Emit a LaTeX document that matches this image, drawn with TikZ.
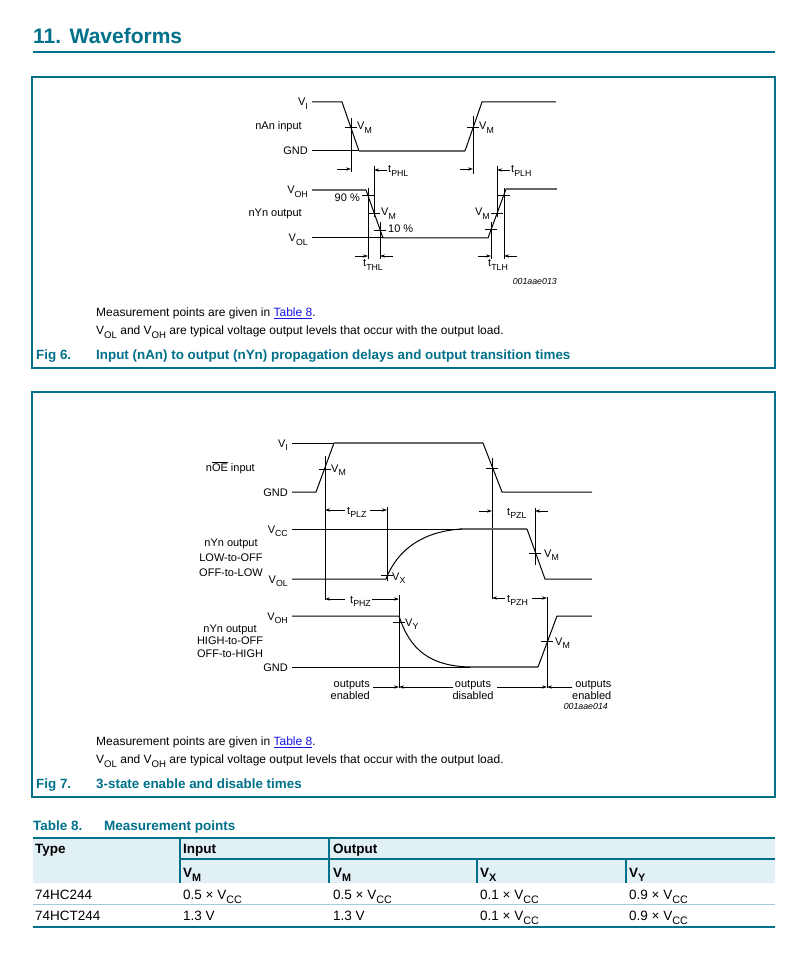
\documentclass[tikz,border=0pt]{standalone}
\usepackage{fontspec}
\setmainfont{Liberation Sans}
\usetikzlibrary{arrows.meta}
\definecolor{teal1}{RGB}{0,113,139}
\definecolor{lnk}{RGB}{20,20,230}
\definecolor{hdr}{RGB}{224,240,245}
\definecolor{rowln}{RGB}{160,205,215}
\newcommand\sbs[1]{\raisebox{-0.3em}{\scalebox{0.8}{#1}}}
\newcommand\fdg{\fontsize{11}{12}\selectfont}
\newcommand\fbd{\fontsize{12}{14}\selectfont}
\newcommand\fcp{\fontsize{13.4}{15}\selectfont\bfseries}
\newcommand\ftb{\fontsize{13.5}{15}\selectfont}
\begin{document}
\begin{tikzpicture}[x=1pt,y=-1pt,
  wv/.style={line width=1pt,black},
  wg/.style={line width=1.5pt,black!60},
  refl/.style={line width=0.8pt,black},
  arr/.style={-{Stealth[length=5pt,width=3.2pt]},line width=0.7pt},
  lab/.style={inner sep=0pt,font=\fdg},
  bodyt/.style={inner sep=0pt,anchor=base west,font=\fbd},
  capt/.style={inner sep=0pt,anchor=base west,font=\fcp,text=teal1},
  tabt/.style={inner sep=0pt,anchor=base west,font=\ftb},
  tabh/.style={inner sep=0pt,anchor=base west,font=\ftb\bfseries},
  code/.style={inner sep=0pt,anchor=base east,font=\fontsize{8.8}{10}\selectfont\itshape}]
\useasboundingbox (0,0) rectangle (795,957);
\fill[white] (0,0) rectangle (795,957);

% ---------- title ----------
\node[inner sep=0pt,anchor=base west,font=\fontsize{21}{24}\selectfont\bfseries,text=teal1] (ttl) at (33,44) {11.\hspace{8.5pt}Waveforms};
\draw[teal1,line width=2pt] (33,52.5) -- (775,52.5);

% ---------- frames ----------
\draw[teal1,line width=1.4pt] (32,77) rectangle (775,368);
\draw[teal1,line width=1.4pt] (32,392) rectangle (775,797);

% ================= Fig 6 =================
\node[lab,anchor=base east] (a1) at (308,106) {V\sbs{I}};
\node[lab,anchor=base east] (a2) at (302,130) {nAn input};
\node[lab,anchor=base east] (a3) at (308,155) {GND};
\node[lab,anchor=base east] (a4) at (308,194) {V\sbs{OH}};
\node[lab,anchor=base east] (a5) at (302,217) {nYn output};
\node[lab,anchor=base east] (a6) at (308,242) {V\sbs{OL}};
\node[lab,anchor=base west] (a7) at (357,130) {V\sbs{M}};
\node[lab,anchor=base west] (a8) at (479,130) {V\sbs{M}};
\node[lab,anchor=base west] (a9) at (388,173) {t\sbs{PHL}};
\node[lab,anchor=base west] (a10) at (511,173) {t\sbs{PLH}};
\node[lab,anchor=base east] (a11) at (360,202) {90 \%};
\node[lab,anchor=base west] (a12) at (381,216) {V\sbs{M}};
\node[lab,anchor=base west] (a13) at (388,233) {10 \%};
\node[lab,anchor=base east] (a14) at (490,216) {V\sbs{M}};
\node[lab,anchor=base west] (a15) at (363,267) {t\sbs{THL}};
\node[lab,anchor=base west] (a16) at (488,267) {t\sbs{TLH}};
\node[code] (a17) at (557,284) {001aae013};

% input waveform
\draw[wv] (312,102) -- (342,102) -- (359,151);
\draw[wv] (312,151) -- (359,151);
\draw[wg] (359,151) -- (465,151);
\draw[wv] (465,151) -- (482,102) -- (556,102);
\draw[refl] (351,118) -- (351,172);
\draw[refl] (345,127) -- (357,127);
\draw[refl] (473,116) -- (473,174);
\draw[refl] (467,127) -- (479,127);
\draw[arr] (337,169) -- (351,169);
\draw[arr] (460,169) -- (473,169);
\draw[refl] (374,166) -- (374,217);
\draw[arr] (387,170) -- (374,170);
\draw[refl] (497,166) -- (497,217);
\draw[arr] (510,170) -- (497,170);
% output waveform
\draw[wg] (312,190) -- (366,190);
\draw[wv] (312,238) -- (383,238);
\draw[wv] (366,190) -- (383,238) -- (488,238) -- (506,189);
\draw[wg] (506,189) -- (557,189);
\draw[refl] (368,188) -- (368,259);
\draw[refl] (362,195) -- (374,195);
\draw[refl] (368,213) -- (380,213);
\draw[refl] (380,222) -- (380,259);
\draw[refl] (374,230) -- (386,230);
\draw[arr] (355,256) -- (368,256);
\draw[arr] (393,256) -- (380,256);
\draw[refl] (491,222) -- (491,259);
\draw[refl] (485,229) -- (497,229);
\draw[refl] (491,213) -- (503,213);
\draw[refl] (504,188) -- (504,259);
\draw[refl] (498,195) -- (510,195);
\draw[arr] (478,256) -- (491,256);
\draw[arr] (517,256) -- (504,256);

\node[bodyt] (m1) at (96,316.5) {Measurement points are given in \textcolor{lnk}{\underline{Table 8}}.};
\node[bodyt] (m2) at (96,334.5) {V\sbs{OL} and V\sbs{OH} are typical voltage output levels that occur with the output load.};
\node[capt] (c1) at (36,359) {Fig 6.};
\node[capt] (c2) at (96,359) {Input (nAn) to output (nYn) propagation delays and output transition times};

% ================= Fig 7 =================
\node[lab,anchor=base east] (b1) at (288,447) {V\sbs{I}};
\node[lab,anchor=base east] (b2) at (255,471) {n$\overline{\mbox{OE}}$ input};
\node[lab,anchor=base east] (b3) at (288,496) {GND};
\node[lab,anchor=base west] (b4) at (331,472) {V\sbs{M}};
\node[lab,anchor=base west] (b5) at (347,514) {t\sbs{PLZ}};
\node[lab,anchor=base east] (b6) at (288,533) {V\sbs{CC}};
\node[lab,align=center,font=\fontsize{11}{15}\selectfont] (b7) at (231,558) {nYn output\\LOW-to-OFF\\OFF-to-LOW};
\node[lab,anchor=base east] (b8) at (288,583) {V\sbs{OL}};
\node[lab,anchor=base west] (b9) at (392,580) {V\sbs{X}};
\node[lab,anchor=base west] (b10) at (507,515) {t\sbs{PZL}};
\node[lab,anchor=base west] (b11) at (544,557) {V\sbs{M}};
\node[lab,anchor=base west] (b12) at (350,603) {t\sbs{PHZ}};
\node[lab,anchor=base east] (b13) at (288,620) {V\sbs{OH}};
\node[lab,align=center,font=\fontsize{11}{12.5}\selectfont] (b14) at (230,641) {nYn output\\HIGH-to-OFF\\OFF-to-HIGH};
\node[lab,anchor=base east] (b15) at (288,671) {GND};
\node[lab,anchor=base west] (b16) at (405,626) {V\sbs{Y}};
\node[lab,anchor=base west] (b17) at (555,645) {V\sbs{M}};
\node[lab,anchor=base west] (b18) at (507,602) {t\sbs{PZH}};
\node[lab,align=right,anchor=east] (b19) at (370,690) {outputs\\enabled};
\node[lab,align=center] (b20) at (473,690) {outputs\\disabled};
\node[lab,align=right,anchor=west] (b21) at (572,690) {outputs\\enabled};
\node[code] (b22) at (608,709) {001aae014};

% nOE input
\draw[wv] (292,443) -- (334,443);
\draw[wv] (292,492) -- (316,492) -- (334,443);
\draw[wg] (334,443) -- (483,443);
\draw[wv] (483,443) -- (502,492) -- (592,492);
\draw[refl] (325,456) -- (325,600);
\draw[refl] (319,469) -- (331,469);
\draw[refl] (492,458) -- (492,599);
\draw[refl] (486,468) -- (498,468);
% tPLZ
\draw[arr] (345,510) -- (325,510);
\draw[arr] (370,510) -- (387,510);
\draw[refl] (387,507) -- (387,581);
% LOW-to-OFF
\draw[wv] (292,529) -- (460,529);
\draw[wg] (460,529) -- (527,529);
\draw[wv] (527,529) -- (545,579) -- (592,579);
\draw[wv] (292,579) -- (386,579) .. controls (398,548) and (425,531) .. (462,529);
\draw[refl] (381,575) -- (393,575);
% tPZL
\draw[arr] (479,511) -- (492,511);
\draw[arr] (548,511) -- (535,511);
\draw[refl] (535,508) -- (535,565);
\draw[refl] (529,553) -- (541,553);
% tPHZ
\draw[arr] (345,599) -- (325,599);
\draw[arr] (372,599) -- (399,599);
\draw[refl] (399,595) -- (399,688);
% HIGH-to-OFF
\draw[wv] (292,616) -- (399,616) .. controls (410,650) and (430,666) .. (470,667);
\draw[wv] (292,667) -- (470,667);
\draw[wg] (470,667) -- (538,667);
\draw[wv] (538,667) -- (557,616) -- (592,616);
\draw[refl] (393,622) -- (405,622);
\draw[refl] (547,597) -- (547,688);
\draw[refl] (541,641) -- (553,641);
% tPZH
\draw[arr] (505,598) -- (492,598);
\draw[arr] (532,598) -- (547,598);
% outputs arrows
\draw[arr] (373,687) -- (399,687);
\draw[arr] (453,687) -- (399,687);
\draw[arr] (497,687) -- (547,687);
\draw[arr] (572,687) -- (547,687);

\node[bodyt] (m3) at (96,745.5) {Measurement points are given in \textcolor{lnk}{\underline{Table 8}}.};
\node[bodyt] (m4) at (96,763.5) {V\sbs{OL} and V\sbs{OH} are typical voltage output levels that occur with the output load.};
\node[capt] (c3) at (36,788) {Fig 7.};
\node[capt] (c4) at (96,788) {3-state enable and disable times};

% ================= Table 8 =================
\node[capt,font=\ftb\bfseries] (t0) at (33,830) {Table 8.};
\node[capt,font=\ftb\bfseries] (t00) at (104,830) {Measurement points};
\fill[hdr] (33,838) rectangle (775,883);
\draw[teal1,line width=1.4pt] (33,838) -- (775,838);
\draw[teal1,line width=1.4pt] (180,859) -- (775,859);
\draw[teal1,line width=1.4pt] (180,838) -- (180,883);
\draw[teal1,line width=1.4pt] (329,838) -- (329,883);
\draw[teal1,line width=1.4pt] (477,859) -- (477,883);
\draw[teal1,line width=1.4pt] (626,859) -- (626,883);
\draw[rowln,line width=1pt] (33,904.5) -- (775,904.5);
\draw[teal1,line width=1.4pt] (33,927) -- (775,927);

\node[tabh] (h1) at (35,853) {Type};
\node[tabh] (h2) at (183,853) {Input};
\node[tabh] (h3) at (333,853) {Output};
\node[tabh] (h4) at (183,877) {V\sbs{M}};
\node[tabh] (h5) at (333,877) {V\sbs{M}};
\node[tabh] (h6) at (480,877) {V\sbs{X}};
\node[tabh] (h7) at (629,877) {V\sbs{Y}};

\node[tabt] (r11) at (35,899) {74HC244};
\node[tabt] (r12) at (183,899) {0.5 × V\sbs{CC}};
\node[tabt] (r13) at (333,899) {0.5 × V\sbs{CC}};
\node[tabt] (r14) at (480,899) {0.1 × V\sbs{CC}};
\node[tabt] (r15) at (629,899) {0.9 × V\sbs{CC}};
\node[tabt] (r21) at (35,920) {74HCT244};
\node[tabt] (r22) at (183,920) {1.3 V};
\node[tabt] (r23) at (333,920) {1.3 V};
\node[tabt] (r24) at (480,920) {0.1 × V\sbs{CC}};
\node[tabt] (r25) at (629,920) {0.9 × V\sbs{CC}};
\end{tikzpicture}
\end{document}
